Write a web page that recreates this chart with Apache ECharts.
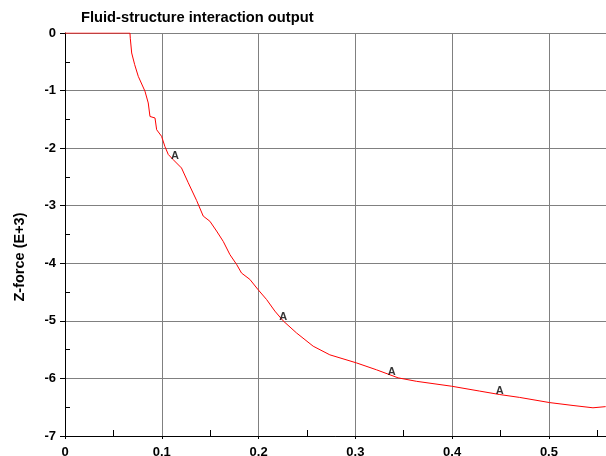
<!DOCTYPE html>
<html>
<head>
<meta charset="utf-8">
<script src="https://cdn.jsdelivr.net/npm/echarts@6/dist/echarts.min.js"></script>
<style>
  html, body { margin: 0; padding: 0; background: #fff; }
  #chart { width: 606px; height: 456px; }
</style>
</head>
<body>
<div id="chart"></div>
<script>
// Time (x) and Z-force in thousands (y) of the fluid-structure run
const timeValues = [
  0, 0.0671, 0.0675, 0.0689, 0.072, 0.0757, 0.0826, 0.086, 0.0878, 0.093,
  0.0947, 0.0998, 0.1032, 0.1067, 0.1118, 0.1204, 0.1273, 0.136, 0.1428, 0.1497,
  0.1566, 0.1635, 0.1704, 0.1773, 0.1824, 0.191, 0.1996, 0.2083, 0.2168, 0.2254,
  0.2392, 0.2564, 0.2736, 0.3011, 0.3218, 0.3442, 0.3631, 0.3993, 0.4285, 0.4492,
  0.4698, 0.5008, 0.5249, 0.5455, 0.5586
];
const zForce = [
  0, 0, -0.1, -0.347, -0.55, -0.753, -1.01, -1.215, -1.45, -1.476,
  -1.68, -1.795, -1.97, -2.11, -2.2, -2.345, -2.6, -2.91, -3.18, -3.27,
  -3.44, -3.62, -3.85, -4.02, -4.17, -4.28, -4.46, -4.63, -4.83, -5.0,
  -5.21, -5.44, -5.59, -5.73, -5.85, -5.99, -6.05, -6.135, -6.22, -6.28,
  -6.33, -6.42, -6.47, -6.51, -6.49
];
// Curve identifier markers placed along the line
const markerTimes = [0.1135, 0.2255, 0.3375, 0.4492];
const markerForces = [-2.2, -5.0, -5.95, -6.28];
const markerText = 'A';

const titleText = 'Fluid-structure interaction output';
const yAxisTitle = 'Z-force (E+3)';
const xMinorTicks = [0.05, 0.15, 0.25, 0.35, 0.45, 0.55];
const yMinorTicks = [-0.5, -1.5, -2.5, -3.5, -4.5, -5.5, -6.5];

const FONT = 'Liberation Sans, Arial, Helvetica, sans-serif';

const chart = echarts.init(document.getElementById('chart'), null, { renderer: 'canvas' });

const curve = timeValues.map((t, i) => [t, zForce[i]]);
const markers = markerTimes.map((t, i) => [t, markerForces[i]]);

chart.setOption({
  animation: false,
  backgroundColor: '#ffffff',
  title: {
    text: titleText,
    left: 81,
    top: 10,
    padding: 0,
    textStyle: { fontFamily: FONT, fontWeight: 'bold', fontSize: 14.7, color: '#000' }
  },
  grid: {
    left: 65, top: 33, width: 542, height: 403,
    containLabel: false,
    outerBoundsMode: 'none'
  },
  xAxis: [
    {
      type: 'value',
      min: 0,
      max: 0.56,
      interval: 0.1,
      axisLine: { show: true, onZero: false, lineStyle: { color: '#000', width: 1 } },
      axisTick: { show: true, inside: false, length: 3, lineStyle: { color: '#000' } },
      axisLabel: {
        show: true, margin: 10, showMaxLabel: false,
        fontFamily: FONT, fontWeight: 'bold', fontSize: 13, color: '#000'
      },
      splitLine: { show: true, lineStyle: { color: '#808080', width: 1 } }
    },
    {
      // minor ticks between the labelled ones, pointing into the plot
      type: 'value',
      position: 'bottom',
      min: 0,
      max: 0.56,
      axisLine: { show: false, onZero: false },
      axisTick: { show: true, inside: true, length: 6, customValues: xMinorTicks, lineStyle: { color: '#000' } },
      axisLabel: { show: false },
      splitLine: { show: false }
    }
  ],
  yAxis: [
    {
      type: 'value',
      min: -7,
      max: 0,
      interval: 1,
      axisLine: { show: true, onZero: false, lineStyle: { color: '#000', width: 1 } },
      axisTick: { show: true, inside: false, length: 5, lineStyle: { color: '#000' } },
      axisLabel: {
        show: true, margin: 9,
        fontFamily: FONT, fontWeight: 'bold', fontSize: 13, color: '#000'
      },
      splitLine: { show: true, lineStyle: { color: '#808080', width: 1 } }
    },
    {
      type: 'value',
      position: 'left',
      min: -7,
      max: 0,
      axisLine: { show: false, onZero: false },
      axisTick: { show: true, inside: true, length: 5, customValues: yMinorTicks, lineStyle: { color: '#000' } },
      axisLabel: { show: false },
      splitLine: { show: false }
    }
  ],
  graphic: [
    {
      type: 'text',
      x: 20,
      y: 257,
      rotation: Math.PI / 2,
      style: {
        text: yAxisTitle,
        fontFamily: FONT,
        fontWeight: 'bold',
        fontSize: 14.5,
        fill: '#000',
        align: 'center',
        verticalAlign: 'middle'
      }
    }
  ],
  series: [
    {
      type: 'line',
      xAxisIndex: 0,
      yAxisIndex: 0,
      data: curve,
      showSymbol: false,
      symbol: 'none',
      lineStyle: { color: '#ff0000', width: 1 },
      z: 3
    },
    {
      type: 'scatter',
      xAxisIndex: 0,
      yAxisIndex: 0,
      data: markers,
      symbolSize: 0,
      itemStyle: { color: 'transparent' },
      label: {
        show: true,
        position: 'top',
        distance: -2,
        formatter: markerText,
        fontFamily: FONT,
        fontWeight: 'bold',
        fontSize: 11,
        color: '#000'
      },
      z: 4
    }
  ]
});
</script>
</body>
</html>
